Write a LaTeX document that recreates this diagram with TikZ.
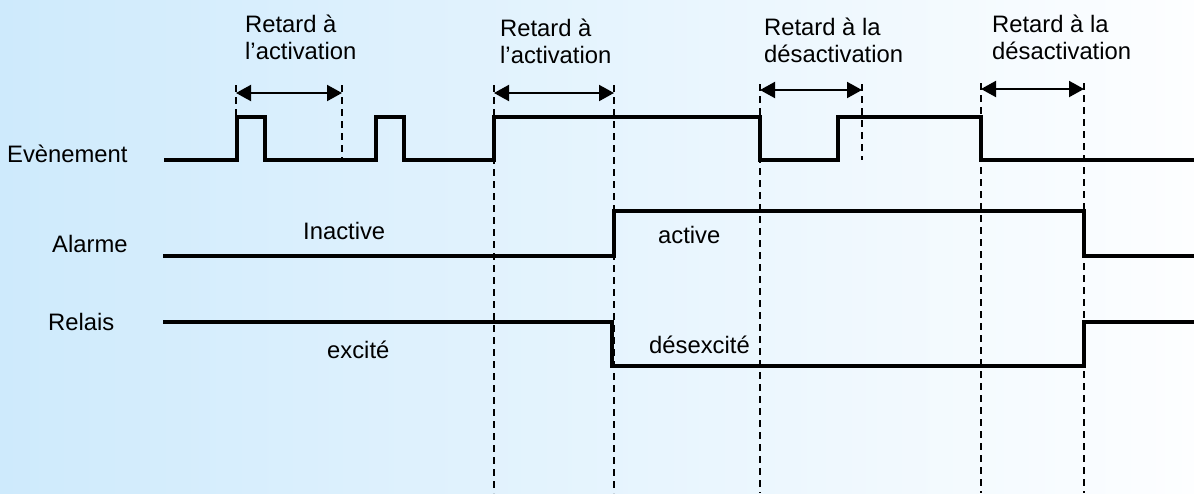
\documentclass[tikz,border=0pt]{standalone}
\usepackage{fontspec}
\setmainfont{Liberation Sans}
\usetikzlibrary{arrows.meta}
\definecolor{bgleft}{RGB}{206,234,252}
\definecolor{bgright}{RGB}{253,254,255}
\begin{document}
\begin{tikzpicture}[x=1pt,y=-1pt,
  signal/.style={line width=4.8pt, line join=miter},
  guide/.style={line width=1.3pt, dash pattern=on 7pt off 5pt},
  delay/.style={line width=2pt, {Triangle[length=15pt,width=16pt]}-{Triangle[length=15pt,width=16pt]}},
  lbl/.style={inner sep=0pt, anchor=base west, align=left, font=\fontsize{23.8}{27}\selectfont}]
  \useasboundingbox (0,0) rectangle (1194,493);
  \shade[left color=bgleft, right color=bgright] (0,0) rectangle (1194,493);

  % guides
  \coordinate (T1) at (236,85);  \coordinate (B1) at (236,160);
  \coordinate (T2) at (342,85);  \coordinate (B2) at (342,160);
  \coordinate (T3) at (494,85);  \coordinate (B3) at (494,493);
  \coordinate (T4) at (614,85);  \coordinate (B4) at (614,493);
  \coordinate (T5) at (760,84);  \coordinate (B5) at (760,493);
  \coordinate (T6) at (862,84);  \coordinate (B6) at (862,160);
  \coordinate (T7) at (981,83);  \coordinate (B7) at (981,493);
  \coordinate (T8) at (1084,83); \coordinate (B8) at (1084,493);

  \foreach \i in {1,...,8} \draw[guide] (T\i) -- (B\i);

  % delays
  \coordinate (A1) at (236,93); \coordinate (A2) at (342,93);
  \coordinate (A3) at (494,93); \coordinate (A4) at (614,93);
  \coordinate (A5) at (760,90); \coordinate (A6) at (862,90);
  \coordinate (A7) at (981,89); \coordinate (A8) at (1084,89);

  \draw[delay] (A1) -- (A2);
  \draw[delay] (A3) -- (A4);
  \draw[delay] (A5) -- (A6);
  \draw[delay] (A7) -- (A8);

  \node[lbl] (d1) at (245,59) {Retard à\\l’activation};
  \node[lbl] (d2) at (500,63) {Retard à\\l’activation};
  \node[lbl] (d3) at (764,62) {Retard à la\\désactivation};
  \node[lbl] (d4) at (992,59) {Retard à la\\désactivation};

  % signals
  \node[lbl] (evt) at (7,162) {Evènement};
  \node[lbl] (alm) at (52,252) {Alarme};
  \node[lbl] (rel) at (48,330) {Relais};

  \draw[signal] (164,160) -- (237,160) -- (237,117) -- (265,117) -- (265,160)
    -- (376,160) -- (376,117) -- (404,117) -- (404,160) -- (494,160) -- (494,117)
    -- (760,117) -- (760,160) -- (838,160) -- (838,117) -- (981,117) -- (981,160)
    -- (1194,160);
  \draw[signal] (163,256) -- (614,256) -- (614,211) -- (1084,211) -- (1084,256)
    -- (1194,256);
  \draw[signal] (163,322) -- (612,322) -- (612,366) -- (1084,366) -- (1084,322)
    -- (1194,322);

  \node[lbl] (ina) at (303,239) {Inactive};
  \node[lbl] (act) at (658,243) {active};
  \node[lbl] (exc) at (327,358) {excité};
  \node[lbl] (dex) at (649,353) {désexcité};
\end{tikzpicture}
\end{document}
